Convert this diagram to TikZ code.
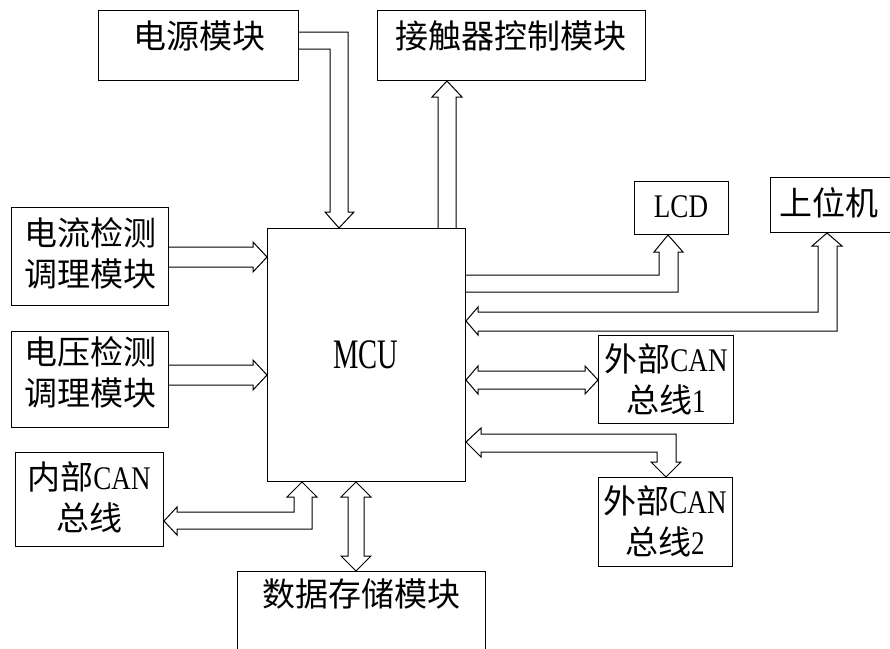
\documentclass[tikz,border=0pt]{standalone}
\usepackage{fontspec}
\setmainfont{Liberation Serif}[FakeStretch=0.82]
\newfontfamily\mcufont{Liberation Serif}[FakeStretch=0.68]
\newfontfamily\cjk{Noto Sans CJK SC}
\newcommand{\zh}[1]{{\cjk #1}}
\begin{document}
\begin{tikzpicture}[x=1pt,y=-1pt,
  box/.style={draw,line width=1pt,rectangle,inner sep=0pt,anchor=north west},
  txt/.style={inner sep=0pt,align=center,font=\fontsize{33}{41}\selectfont},
  fat/.style={draw,line width=1pt,line join=miter}]
\useasboundingbox (0,0) rectangle (890,648);
\clip (0,0) rectangle (890,648);
% boxes
\node[box,minimum width=200,minimum height=70] (pw) at (98,10) {};
\node[box,minimum width=268,minimum height=70] (ct) at (377,10) {};
\node[box,minimum width=198,minimum height=253] (mcu) at (267,228) {};
\node[box,minimum width=94,minimum height=53] (lcd) at (634,181) {};
\node[box,minimum width=130,minimum height=55] (pc) at (770,177) {};
\node[box,minimum width=157,minimum height=98] (cur) at (11,207) {};
\node[box,minimum width=157,minimum height=96] (vol) at (11,331) {};
\node[box,minimum width=148,minimum height=94] (inc) at (15,452) {};
\node[box,minimum width=135,minimum height=88] (e1) at (598,335) {};
\node[box,minimum width=134,minimum height=89] (e2) at (598,477) {};
\node[box,minimum width=248,minimum height=100] (ds) at (237,571) {};
% texts
\node[txt] (pwt) at (199,36) {\zh{电源模块}};
\node[txt] (ctt) at (511,36) {\zh{接触器控制模块}};
\node[txt,font=\fontsize{42}{42}\mcufont] (mcut) at (366,355) {MCU};
\node[txt] (lcdt) at (681,207) {LCD};
\node[txt] (pct) at (829,203) {\zh{上位机}};
\node[txt] (curt) at (90,253) {\zh{电流检测}\\\zh{调理模块}};
\node[txt] (volt) at (90,372) {\zh{电压检测}\\\zh{调理模块}};
\node[txt] (inct) at (89,497) {\zh{内部}CAN\\\zh{总线}};
\node[txt] (e1t) at (666,379) {\zh{外部}CAN\\\zh{总线}1};
\node[txt] (e2t) at (665,521) {\zh{外部}CAN\\\zh{总线}2};
\node[txt] (dst) at (361,594) {\zh{数据存储模块}};
% fat arrows
% power -> MCU
\draw[fat] (pw.east |- 0,32) -- (348,32) -- (348,212) -- (354,212) -- (mcu.north -| 339,0) -- (325,212) -- (330,212) -- (330,49) -- (pw.east |- 0,49);
% MCU -> contactor
\draw[fat] (mcu.north -| 438,0) -- (438,97) -- (432,97) -- (ct.south -| 447,0) -- (462,97) -- (456,97) -- (mcu.north -| 456,0);
% current -> MCU
\draw[fat] (cur.east |- 0,247) -- (253,247) -- (253,242) -- (mcu.west |- 0,257) -- (253,272) -- (253,267) -- (cur.east |- 0,267);
% voltage -> MCU
\draw[fat] (vol.east |- 0,365) -- (253,365) -- (253,360) -- (mcu.west |- 0,375) -- (253,390) -- (253,385) -- (vol.east |- 0,385);
% MCU -> LCD
\draw[fat] (mcu.east |- 0,275) -- (659,275) -- (659,252) -- (654,252) -- (lcd.south -| 668,0) -- (683,252) -- (678,252) -- (678,292) -- (mcu.east |- 0,292);
% MCU <-> PC
\draw[fat] (mcu.east |- 0,321) -- (478,307) -- (478,312) -- (818,312) -- (818,246) -- (812,246) -- (pc.south -| 827,0) -- (842,246) -- (837,246) -- (837,331) -- (478,331) -- (478,335) -- cycle;
% MCU <-> ext CAN 1
\draw[fat] (mcu.east |- 0,380) -- (478,366) -- (478,371) -- (585,371) -- (585,366) -- (e1.west |- 0,380) -- (585,394) -- (585,389) -- (478,389) -- (478,394) -- cycle;
% MCU <-> ext CAN 2
\draw[fat] (mcu.east |- 0,442) -- (481,428) -- (481,434) -- (676,434) -- (676,462) -- (681,462) -- (e2.north -| 666,0) -- (651,462) -- (657,462) -- (657,452) -- (481,452) -- (481,457) -- cycle;
% MCU <-> internal CAN
\draw[fat] (inc.east |- 0,521) -- (177,507) -- (177,512) -- (294,512) -- (294,497) -- (287,497) -- (mcu.south -| 302,0) -- (317,497) -- (312,497) -- (312,529) -- (177,529) -- (177,535) -- cycle;
% MCU <-> data storage
\draw[fat] (mcu.south -| 356,0) -- (371,497) -- (364,497) -- (364,556) -- (371,556) -- (ds.north -| 356,0) -- (341,556) -- (348,556) -- (348,497) -- (341,497) -- cycle;
\end{tikzpicture}
\end{document}
